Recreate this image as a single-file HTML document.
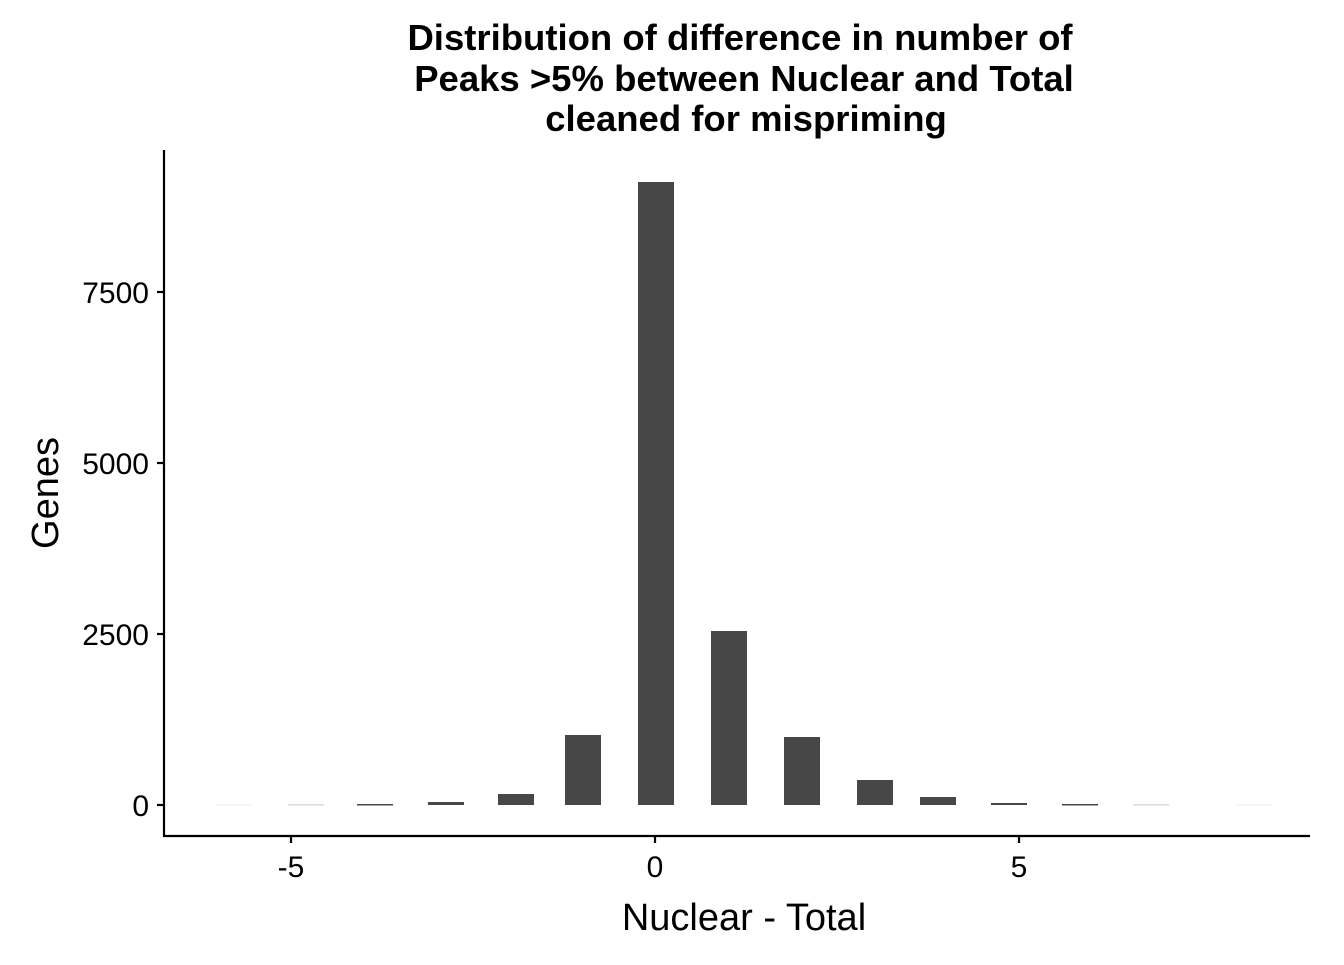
<!DOCTYPE html>
<html><head><meta charset="utf-8"><style>body{margin:0;background:#fff}</style></head>
<body>
<svg width="1344" height="960" xmlns="http://www.w3.org/2000/svg" font-family="Liberation Sans, Arial, sans-serif">
<rect width="1344" height="960" fill="#fff"/>
<g font-weight="bold" font-size="36.5" text-anchor="middle" fill="#000">
<text x="740" y="50">Distribution of difference in number of</text>
<text x="744" y="91">Peaks &gt;5% between Nuclear and Total</text>
<text x="746" y="131">cleaned for mispriming</text>
</g>
<g fill="#474747">
<rect x="638" y="182" width="36" height="623"/>
<rect x="711" y="631" width="36" height="174"/>
<rect x="565" y="735" width="36" height="70"/>
<rect x="784" y="737" width="36" height="68"/>
<rect x="857" y="780" width="36" height="25"/>
<rect x="920" y="797" width="36" height="8"/>
<rect x="498" y="794" width="36" height="11"/>
<rect x="428" y="802" width="36" height="3"/>
<rect x="991" y="803" width="36" height="2"/>
<rect x="357" y="804" width="36" height="1.5"/>
<rect x="1062" y="804" width="36" height="1.5"/>
<rect x="288" y="804.5" width="36" height="0.8" fill="#bbb"/>
<rect x="1133" y="804.5" width="36" height="0.8" fill="#bbb"/>
<rect x="216" y="804.7" width="36" height="0.5" fill="#ddd"/>
<rect x="1236" y="804.7" width="36" height="0.5" fill="#ddd"/>
</g>
<g stroke="#000" stroke-width="2.2" fill="none">
<line x1="164" y1="150" x2="164" y2="837"/>
<line x1="163" y1="836" x2="1310" y2="836"/>
<line x1="157" y1="805" x2="164" y2="805"/>
<line x1="157" y1="634" x2="164" y2="634"/>
<line x1="157" y1="463" x2="164" y2="463"/>
<line x1="157" y1="292" x2="164" y2="292"/>
<line x1="291" y1="836" x2="291" y2="843"/>
<line x1="655" y1="836" x2="655" y2="843"/>
<line x1="1019" y1="836" x2="1019" y2="843"/>
</g>
<g font-size="30" fill="#000" text-anchor="end">
<text x="149" y="816">0</text>
<text x="149" y="645">2500</text>
<text x="149" y="474">5000</text>
<text x="149" y="303">7500</text>
</g>
<g font-size="30" fill="#000" text-anchor="middle">
<text x="291" y="877">-5</text>
<text x="655" y="877">0</text>
<text x="1019" y="877">5</text>
</g>
<text x="744" y="930" font-size="38" text-anchor="middle">Nuclear - Total</text>
<text transform="translate(58,493) rotate(-90)" font-size="38" text-anchor="middle">Genes</text>
</svg>
</body></html>
